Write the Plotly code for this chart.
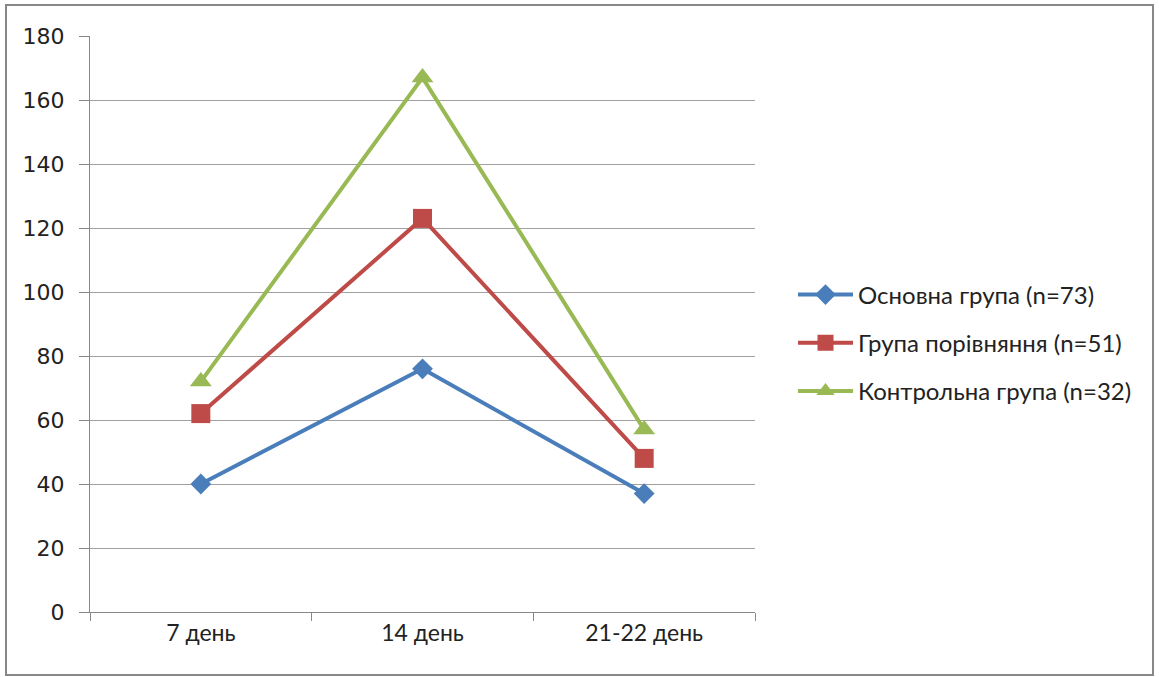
import plotly.graph_objects as go

# Days of observation and values for each group
days = ["7 день", "14 день", "21-22 день"]
main_group = [40, 76, 37]
comparison_group = [62, 123, 48]
control_group = [72, 167, 57]

names = ["Основна група (n=73)", "Група порівняння (n=51)", "Контрольна група (n=32)"]
colors = ["#4A7EBB", "#BE4B48", "#98B954"]
symbols = ["diamond", "square", "triangle-up"]
sizes = [16, 19, 19]

fig = go.Figure()
for i, vals in enumerate([main_group, comparison_group, control_group]):
    fig.add_trace(go.Scatter(
        x=days, y=vals, name=names[i], mode="lines+markers",
        legendgroup=f"g{i}",
        line=dict(color=colors[i], width=4),
        marker=dict(symbol=symbols[i], size=sizes[i], color=colors[i]),
    ))

W, H = 1159, 677
L, R, T, B = 90, 404, 36, 65
pw, ph = W - L - R, H - T - B

label_font = "Lato, Liberation Sans, sans-serif"

fig.update_layout(
    width=W, height=H,
    margin=dict(l=L, r=R, t=T, b=B),
    paper_bgcolor="white", plot_bgcolor="white",
    showlegend=True,
    legend=dict(
        x=(793 - L) / pw, y=(612 - 343) / ph, xanchor="left", yanchor="middle",
        font=dict(family=label_font, size=24, color="#222"),
        itemwidth=55, tracegroupgap=14, bgcolor="rgba(0,0,0,0)",
    ),
    xaxis=dict(
        type="category", range=[-0.5, 2.5],
        showgrid=False, showline=True, linecolor="#888", linewidth=1,
        ticks="outside", tickson="boundaries", ticklen=8, tickcolor="#888",
        tickfont=dict(family=label_font, size=23, color="#222"),
    ),
    yaxis=dict(
        range=[0, 180], dtick=20,
        showgrid=True, gridcolor="#a0a0a0", gridwidth=1,
        showline=True, linecolor="#888", linewidth=1,
        ticks="outside", ticklen=10, tickcolor="#888",
        zeroline=False,
        tickfont=dict(family="Verdana, DejaVu Sans, sans-serif", size=22, color="#222"),
        ticklabelstandoff=10,
    ),
)

# Outer chart frame
fig.add_shape(
    type="rect", xref="paper", yref="paper",
    x0=(6 - L) / pw, x1=(1153 - L) / pw,
    y0=(612 - 675) / ph, y1=(612 - 5) / ph,
    line=dict(color="#888", width=2), fillcolor="rgba(0,0,0,0)", layer="below",
)

fig.write_html("out.html")
